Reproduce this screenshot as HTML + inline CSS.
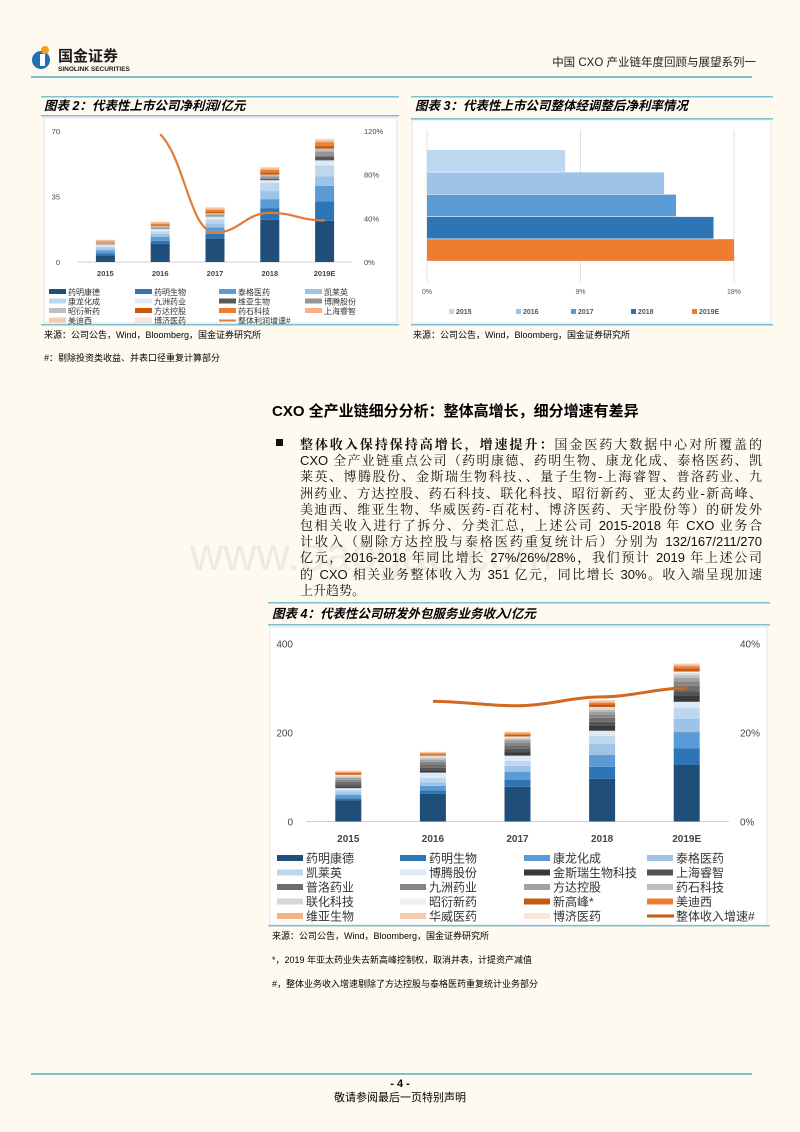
<!DOCTYPE html>
<html><head><meta charset="utf-8">
<style>
html,body{margin:0;padding:0;}
body{width:800px;height:1132px;background:#fefaef;position:relative;overflow:hidden;font-family:"Liberation Sans","Noto Sans CJK SC",sans-serif;color:#111;}
.body-line{position:absolute;left:300px;width:462px;font-size:13px;line-height:16px;height:16px;text-align:justify;text-align-last:justify;white-space:nowrap;font-family:"Liberation Sans","Noto Serif CJK SC",serif;}
.body-line.last{text-align-last:left;}
</style></head>
<body>
<svg id="page" width="800" height="1132" style="position:absolute;left:0;top:0" font-family="Liberation Sans, Noto Sans CJK SC, sans-serif">
 <g>
  <circle cx="41" cy="60" r="9" fill="#1f6fb5"/>
  <circle cx="45" cy="50" r="4" fill="#f0a020"/>
  <rect x="40" y="54" width="5" height="12" fill="#fff"/>
  <text x="58" y="61" font-size="15" font-weight="bold" fill="#1a1a1a">国金证券</text>
  <text x="58" y="71" font-size="6.5" font-weight="bold" fill="#1a1a1a">SINOLINK SECURITIES</text>
  <text x="756" y="66" font-size="11.5" text-anchor="end" fill="#222">中国 CXO 产业链年度回顾与展望系列一</text>
  <rect x="31" y="76" width="721" height="2" fill="#7fbfd0"/>
 </g>
 <rect x="41" y="96" width="358" height="1.5" fill="#7fbfd0"/>
 <text x="44" y="110" font-size="12.5" font-weight="bold" font-style="italic">图表 2：代表性上市公司净利润/亿元</text>
 <rect x="41" y="115" width="358" height="1.5" fill="#7fbfd0"/>
 <rect x="44" y="118" width="353" height="205" fill="#fff" stroke="#e3e3e3"/>
 <rect x="41" y="324" width="358" height="1.5" fill="#7fbfd0"/>
 <g id="c2"></g>
 <text x="44" y="338" font-size="9">来源：公司公告，Wind，Bloomberg，国金证券研究所</text>
 <text x="44" y="361" font-size="9">#：剔除投资类收益、并表口径重复计算部分</text>
 <rect x="411" y="96" width="362" height="1.5" fill="#7fbfd0"/>
 <text x="415" y="110" font-size="12.5" font-weight="bold" font-style="italic">图表 3：代表性上市公司整体经调整后净利率情况</text>
 <rect x="411" y="118" width="362" height="1.5" fill="#7fbfd0"/>
 <rect x="412" y="120" width="359" height="203" fill="#fff" stroke="#e3e3e3"/>
 <rect x="411" y="324" width="362" height="1.5" fill="#7fbfd0"/>
 <g id="c3"></g>
 <text x="413" y="338" font-size="9">来源：公司公告，Wind，Bloomberg，国金证券研究所</text>
 <text x="272" y="416" font-size="15" font-weight="bold">CXO 全产业链细分分析：整体高增长，细分增速有差异</text>
 <rect x="276" y="439" width="7" height="7" fill="#111"/>
 <text x="190" y="570" font-size="46" fill="#e4e0d8" opacity="0.6">www.baogao.com</text>
 <rect x="268" y="602" width="502" height="1.5" fill="#7fbfd0"/>
 <text x="272" y="618" font-size="12.5" font-weight="bold" font-style="italic">图表 4：代表性公司研发外包服务业务收入/亿元</text>
 <rect x="268" y="624" width="502" height="1.5" fill="#7fbfd0"/>
 <rect x="270" y="627" width="497" height="298" fill="#fff" stroke="#e3e3e3"/>
 <rect x="268" y="925" width="502" height="1.5" fill="#7fbfd0"/>
 <g id="c4"></g>
 <text x="272" y="939" font-size="9">来源：公司公告，Wind，Bloomberg，国金证券研究所</text>
 <text x="272" y="963" font-size="9">*，2019 年亚太药业失去新高峰控制权，取消并表，计提资产减值</text>
 <text x="272" y="987" font-size="9">#，整体业务收入增速剔除了方达控股与泰格医药重复统计业务部分</text>
 <rect x="31" y="1073" width="721" height="2" fill="#7fbfd0"/>
 <text x="400" y="1087" font-size="11" font-weight="bold" text-anchor="middle">- 4 -</text>
 <text x="400" y="1101" font-size="11" text-anchor="middle">敬请参阅最后一页特别声明</text>
</svg>
<div class="body-line" style="top:437px"><b>整体收入保持保持高增长，增速提升：</b>国金医药大数据中心对所覆盖的</div>
<div class="body-line" style="top:453.2px">CXO 全产业链重点公司（药明康德、药明生物、康龙化成、泰格医药、凯</div>
<div class="body-line" style="top:469.4px">莱英、博腾股份、金斯瑞生物科技、、量子生物-上海睿智、普洛药业、九</div>
<div class="body-line" style="top:485.6px">洲药业、方达控股、药石科技、联化科技、昭衍新药、亚太药业-新高峰、</div>
<div class="body-line" style="top:501.8px">美迪西、维亚生物、华威医药-百花村、博济医药、天宇股份等）的研发外</div>
<div class="body-line" style="top:518px">包相关收入进行了拆分、分类汇总，上述公司 2015-2018 年 CXO 业务合</div>
<div class="body-line" style="top:534.2px">计收入（剔除方达控股与泰格医药重复统计后）分别为 132/167/211/270</div>
<div class="body-line" style="top:550.4px">亿元，2016-2018 年同比增长 27%/26%/28%，我们预计 2019 年上述公司</div>
<div class="body-line" style="top:566.6px">的 CXO 相关业务整体收入为 351 亿元，同比增长 30%。收入端呈现加速</div>
<div class="body-line last" style="top:582.8px">上升趋势。</div>
<script>
const NS='http://www.w3.org/2000/svg';
function mk(parent,tag,attrs,text){const e=document.createElementNS(NS,tag);for(const k in attrs)e.setAttribute(k,attrs[k]);if(text!==undefined)e.textContent=text;parent.appendChild(e);return e;}

const c2Years=['2015','2016','2017','2018','2019E'];
const c2Companies=['药明康德','药明生物','泰格医药','凯莱英','康龙化成','九洲药业','维亚生物','博腾股份','昭衍新药','方达控股','药石科技','上海睿智','美迪西','博济医药'];
const c2Colors=['#1f4e79','#2e75b6','#5b9bd5','#9dc3e6','#bdd7ee','#deebf7','#595959','#969696','#bfbfbf','#c55a11','#ed7d31','#f4b183','#f8cbad','#fbe5d6'];
const c2Values=[
 [3.6,9.6,12.5,22.6,22],
 [1.0,1.7,2.5,6.2,10.3],
 [1.6,2.2,3.5,4.8,8.4],
 [1.2,1.6,2.2,4.3,5],
 [1.0,1.3,2.0,4.3,5.9],
 [0.9,1.2,1.5,1.5,2.7],
 [0,0,0,0.8,2.1],
 [0.6,0.8,0.9,1.2,2.7],
 [0.5,0.8,1.0,1.0,1.5],
 [0,0.4,0.8,1.2,1.5],
 [0.5,0.8,1.0,1.4,1.8],
 [0.6,0.7,0.8,0.8,0.8],
 [0.3,0.3,0.5,0.5,0.8],
 [0.2,0.2,0.3,0.3,0.5]];
const c2Growth=[null,117,27,45,38];
const c2LeftTicks=[0,35,70];
const c2RightTicks=['0%','40%','80%','120%'];
const c2RightVals=[0,40,80,120];
const c2Legend=['药明康德','药明生物','泰格医药','凯莱英','康龙化成','九洲药业','维亚生物','博腾股份','昭衍新药','方达控股','药石科技','上海睿智','美迪西','博济医药','整体利润增速#'];
(function(){
 const g=document.getElementById('c2');
 const y0=262,yTop=131,xL=78,xR=352;
 const yv=v=>y0-(v/70)*(y0-yTop);
 const yr=v=>y0-(v/120)*(y0-yTop);
 const xc=i=>xL+(i+0.5)*(xR-xL)/c2Years.length;
 const bw=19;
 c2LeftTicks.forEach(t=>{const e=mk(g,'text',{x:60,y:yv(t)+3,'font-size':7.5,'text-anchor':'end',fill:'#444'},t);
  
  });
 c2RightVals.forEach((t,i)=>{const e=mk(g,'text',{x:364,y:yr(t)+3,'font-size':7.5,fill:'#444'},c2RightTicks[i]);
  
  });
 mk(g,'line',{x1:xL,x2:xR,y1:y0,y2:y0,stroke:'#d0d0d0'});
 c2Years.forEach((yr_,i)=>{
  let acc=0;
  c2Values.forEach((s,k)=>{const v=s[i];if(!v)return;
   const r=mk(g,'rect',{x:xc(i)-bw/2,y:yv(acc+v),width:bw,height:yv(acc)-yv(acc+v),fill:c2Colors[k]});
   
   
   acc+=v;});
  const t=mk(g,'text',{x:xc(i),y:276,'font-size':7.5,'font-weight':'bold','text-anchor':'middle',fill:'#444'},yr_);
  
  
 });
 const pts=[];c2Growth.forEach((v,i)=>{if(v!==null)pts.push([xc(i),yr(v)]);});
 let d='M'+pts[0][0]+','+pts[0][1];
 for(let i=1;i<pts.length;i++){const p=pts[i-1],q=pts[i];const dx=(q[0]-p[0])/2.2;d+=` C${p[0]+dx},${p[1]+(i==1?25:0)} ${q[0]-dx},${q[1]} ${q[0]},${q[1]}`;}
 const ln=mk(g,'path',{d:d,fill:'none',stroke:'#e07b39','stroke-width':2.2});
 
 
 const cols=[49,135,219,305],rows=[292,301.5,311,320.5];
 c2Legend.forEach((n,i)=>{const cx=cols[i%4],cy=rows[Math.floor(i/4)];
  const isLine=i===c2Legend.length-1;
  const sw=isLine?mk(g,'rect',{x:cx,y:cy-1,width:17,height:2,fill:'#e07b39'}):mk(g,'rect',{x:cx,y:cy-3,width:17,height:5,fill:c2Colors[i]});
  
  
  const t=mk(g,'text',{x:cx+19,y:cy+3,'font-size':8,fill:'#333'},n);
  
  });
})();

const c3Years=['2015','2016','2017','2018','2019E'];
const c3Margins=[8.1,13.9,14.6,16.8,18.0];
const c3Colors=['#bdd7ee','#9dc3e6','#5b9bd5','#2e75b6','#ed7d31'];
const c3Ticks=[0,9,18];
(function(){
 const g=document.getElementById('c3');
 const x0=427,x18=734;
 const xt=v=>x0+(v/18)*(x18-x0);
 c3Ticks.forEach(t=>{mk(g,'line',{x1:xt(t),x2:xt(t),y1:130,y2:282,stroke:'#e0e0e0'});
  const e=mk(g,'text',{x:xt(t),y:294,'font-size':7,'text-anchor':'middle',fill:'#555'},t+'%');
  
  });
 const bh=22.3,top=150;
 c3Years.forEach((y,i)=>{const r=mk(g,'rect',{x:x0,y:top+i*bh,width:xt(c3Margins[i])-x0,height:bh-0.6,fill:c3Colors[i]});
  
  });
 const lx=[449,516,571,631,692];
 c3Years.forEach((y,i)=>{mk(g,'rect',{x:lx[i],y:309,width:5,height:5,fill:c3Colors[i]});
  const t=mk(g,'text',{x:lx[i]+7,y:314,'font-size':7,'font-weight':'bold',fill:'#555'},y);
  
  });
})();

const c4Years=['2015','2016','2017','2018','2019E'];
const c4Companies=['药明康德','药明生物','康龙化成','泰格医药','凯莱英','博腾股份','金斯瑞生物科技','上海睿智','普洛药业','九洲药业','方达控股','药石科技','联化科技','昭衍新药','新高峰*','美迪西','维亚生物','华威医药','博济医药'];
const c4Colors=['#1f4e79','#2e75b6','#5b9bd5','#9dc3e6','#bdd7ee','#deebf7','#3a3a3a','#545454','#6e6e6e','#858585','#a0a0a0','#bdbdbd','#d6d6d6','#efefef','#c55a11','#ed7d31','#f4b183','#f8cbad','#fbe5d6'];
const c4Values=[
 [48,62,78,96,127],
 [4,8,16,27,37],
 [8,10,18,27,37],
 [6,8,13,24,30],
 [5,10,11,18,25],
 [4,12,12,12,13],
 [3,5,8,12,14],
 [5,6,7,8,10],
 [6,7,8,9,12],
 [5,6,7,8,10],
 [4,5,5,6,8],
 [2,3,3,4,5],
 [3,4,3,4,5],
 [2,2,2,2,4],
 [3,3,4,6,7],
 [2,2,3,4,5],
 [2,2,2,3,3],
 [2,1,1,2,2],
 [1,1,1,1,2]];
const c4Growth=[null,27,26,28,30];
const c4LeftTicks=[0,200,400];
const c4RightVals=[0,20,40];
const c4RightTicks=['0%','20%','40%'];
const c4Legend=['药明康德','药明生物','康龙化成','泰格医药','凯莱英','博腾股份','金斯瑞生物科技','上海睿智','普洛药业','九洲药业','方达控股','药石科技','联化科技','昭衍新药','新高峰*','美迪西','维亚生物','华威医药','博济医药','整体收入增速#'];
(function(){
 const g=document.getElementById('c4');
 const y0=821.5,yTop=643.5,xL=306,xR=729;
 const yv=v=>y0-(v/400)*(y0-yTop);
 const yr=v=>y0-(v/40)*(y0-yTop);
 const xc=i=>xL+(i+0.5)*(xR-xL)/c4Years.length;
 const bw=26;
 c4LeftTicks.forEach(t=>{const e=mk(g,'text',{x:293,y:yv(t)+4,'font-size':10,'text-anchor':'end',fill:'#444'},t);
  
  });
 c4RightVals.forEach((t,i)=>{const e=mk(g,'text',{x:740,y:yr(t)+4,'font-size':10,fill:'#444'},c4RightTicks[i]);
  
  });
 mk(g,'line',{x1:xL,x2:xR,y1:y0,y2:y0,stroke:'#d0d0d0'});
 c4Years.forEach((yr_,i)=>{
  let acc=0;
  c4Values.forEach((s,k)=>{const v=s[i];if(!v)return;
   const r=mk(g,'rect',{x:xc(i)-bw/2,y:yv(acc+v),width:bw,height:yv(acc)-yv(acc+v),fill:c4Colors[k]});
   
   
   acc+=v;});
  const t=mk(g,'text',{x:xc(i),y:842,'font-size':10,'font-weight':'bold','text-anchor':'middle',fill:'#444'},yr_);
  
  
 });
 const pts=[];c4Growth.forEach((v,i)=>{if(v!==null)pts.push([xc(i),yr(v)]);});
 let d='M'+pts[0][0]+','+pts[0][1];
 for(let i=1;i<pts.length;i++){const p=pts[i-1],q=pts[i];const dx=(q[0]-p[0])/3;d+=` C${p[0]+dx},${p[1]} ${q[0]-dx},${q[1]} ${q[0]},${q[1]}`;}
 const ln=mk(g,'path',{d:d,fill:'none',stroke:'#d2691e','stroke-width':3});
 
 
 const cols=[277,400,524,647],rows=[858,872.5,887,901.5,916];
 c4Legend.forEach((n,i)=>{const cx=cols[i%4],cy=rows[Math.floor(i/4)];
  const isLine=i===c4Legend.length-1;
  const sw=isLine?mk(g,'rect',{x:cx,y:cy-1.5,width:27,height:3,fill:'#c55a11'}):mk(g,'rect',{x:cx,y:cy-3,width:26,height:6,fill:c4Colors[i]});
  
  
  const t=mk(g,'text',{x:cx+29,y:cy+4.5,'font-size':12,fill:'#333'},n);
  
  });
})();
</script>
</body></html>
